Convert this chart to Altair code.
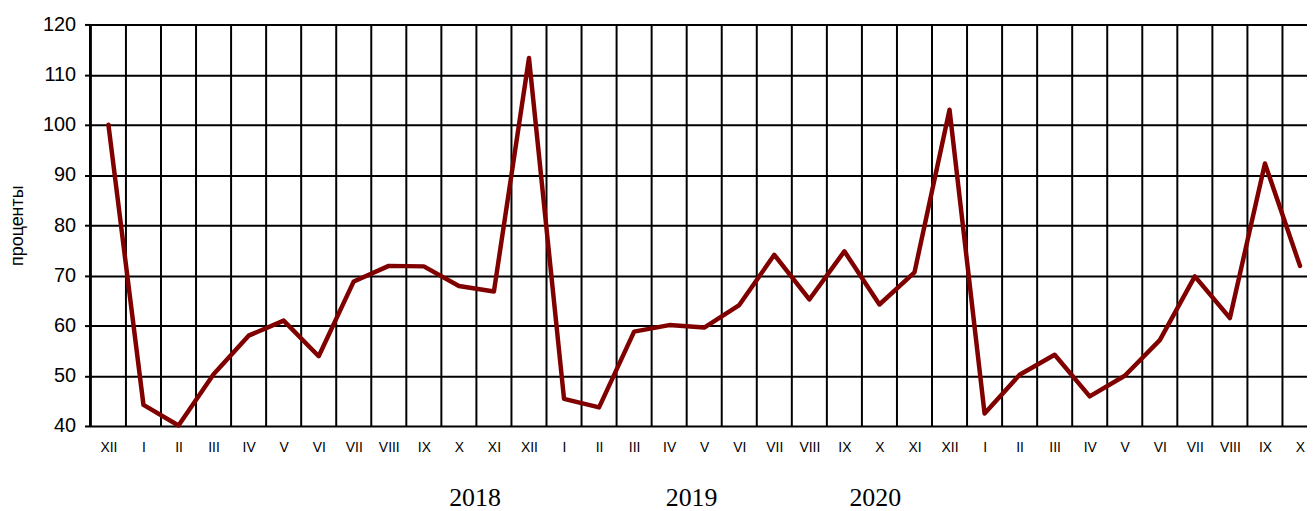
import altair as alt
import pandas as pd

months = ["XII", "I", "II", "III", "IV", "V", "VI", "VII", "VIII", "IX", "X", "XI",
          "XII", "I", "II", "III", "IV", "V", "VI", "VII", "VIII", "IX", "X", "XI",
          "XII", "I", "II", "III", "IV", "V", "VI", "VII", "VIII", "IX", "X"]
values = [100.0, 44.2, 40.1, 50.3, 58.0, 61.0, 53.9, 68.8, 71.9, 71.8, 67.9, 66.8,
          113.3, 45.4, 43.7, 58.8, 60.1, 59.6, 64.1, 74.1, 65.2, 74.8, 64.2, 70.6,
          103.0, 42.5, 50.2, 54.2, 45.9, 50.0, 57.1, 69.8, 61.5, 92.3, 71.9]
years = ["2018", "2019", "2020"]
year_pos = [10.46, 16.64, 21.88]
y_ticks = [40, 50, 60, 70, 80, 90, 100, 110, 120]

W, H = 1225, 404
idx = list(range(len(months)))
df = pd.DataFrame({"idx": idx, "month": months, "value": values})
bounds = pd.DataFrame({"b": [i - 0.5 for i in idx]})
ydf = pd.DataFrame({"year": years, "pos": year_pos})

label_expr = "[" + ",".join("'%s'" % m for m in months) + "][round(datum.value)]"

xscale = alt.Scale(domain=[-0.54, 34.2], nice=False, zero=False)
yscale = alt.Scale(domain=[40, 120], nice=False, zero=False)

xaxis = alt.Axis(values=idx, labelExpr=label_expr, grid=False, ticks=False, domain=False,
                 labelFont="Liberation Sans", labelFontSize=14, labelColor="black",
                 labelPadding=15, title=None, labelOverlap=False, labelFlush=False,
                 labelSeparation=0, labelBound=False)

grid_v = alt.Chart(bounds).mark_rule(color="black", strokeWidth=2, clip=True).encode(
    x=alt.X("b:Q", scale=xscale, axis=xaxis)
)

line = alt.Chart(df).mark_line(color="#800000", strokeWidth=4.5, strokeJoin="round", strokeCap="round").encode(
    x=alt.X("idx:Q", scale=xscale, axis=xaxis),
    y=alt.Y("value:Q", scale=yscale,
            axis=alt.Axis(values=y_ticks, grid=True, gridColor="black", gridWidth=2,
                          domainColor="black", domainWidth=2, tickColor="black", tickWidth=2,
                          tickSize=5, labelFont="Liberation Sans", labelFontSize=20,
                          labelColor="black", labelPadding=9, title="проценты",
                          titleFont="Liberation Sans", titleFontSize=18, titleFontWeight="normal",
                          titleColor="black", titlePadding=16)),
)

year_text = alt.Chart(ydf).mark_text(font="Liberation Serif", fontSize=26, color="black",
                                     baseline="alphabetic", align="center").encode(
    x=alt.X("pos:Q", scale=xscale, axis=xaxis),
    y=alt.value(H + 81),
    text="year:N",
)

chart = alt.layer(grid_v, line, year_text).properties(
    width=W, height=H,
    autosize=alt.AutoSizeParams(type="none"),
    padding={"left": 82, "top": 15, "right": 0, "bottom": 84},
).configure_view(stroke="transparent").configure_axisX(labelOverlap=False)

chart.save("out.html", embed_options={"renderer": "svg", "actions": False})
